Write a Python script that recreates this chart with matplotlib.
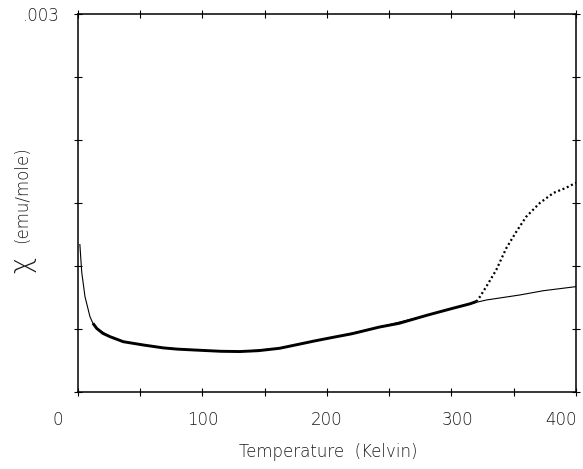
import numpy as np
import matplotlib.pyplot as plt
from matplotlib.ticker import MultipleLocator, FixedLocator
from matplotlib.transforms import ScaledTranslation

# measured susceptibility, dense part (below the transition)
temp_low = [12, 15, 20, 25.7, 36.4, 52.5, 68.5, 80, 100, 115, 130, 145, 162,
            178, 190, 205, 220, 242, 258, 280, 301, 315, 320]
chi_low = [0.000545, 0.000505, 0.000465, 0.000439, 0.000399, 0.000373, 0.000350,
           0.000340, 0.000330, 0.000323, 0.000321, 0.000328, 0.000347, 0.000380,
           0.000405, 0.000434, 0.000462, 0.000515, 0.000545, 0.000608, 0.000664,
           0.000700, 0.000718]

# measured susceptibility above the transition
temp_high = [320, 323, 328, 336, 344, 352, 360, 371, 382, 392, 400]
chi_high = [0.000718, 0.000757, 0.000836, 0.000968, 0.00114, 0.00127, 0.00139,
            0.00150, 0.00158, 0.00162, 0.00166]

# fitted curve
fit_temp = [1.5, 3, 5.6, 9.6, 12, 15, 25.7, 36.4, 52.5, 68.5, 100, 130, 162, 205,
            242, 280, 301, 315, 328, 355, 374, 400]
fit_chi = [0.00117, 0.00095, 0.000757, 0.000598, 0.000545, 0.000505, 0.000439,
           0.000399, 0.000373, 0.000350, 0.000330, 0.000321, 0.000347, 0.000434,
           0.000515, 0.000608, 0.000664, 0.000700, 0.000730, 0.000770, 0.000804,
           0.000836]

plt.rcParams['font.family'] = ['DejaVu Sans']
plt.rcParams['font.weight'] = 'light'

fig = plt.figure(figsize=(5.83, 4.69), dpi=100)
ax = fig.add_axes([0.1338, 0.1642, 0.854, 0.806])

ax.plot(fit_temp, fit_chi, color='black', lw=0.8)
ax.plot(temp_low, chi_low, color='black', lw=2.1, solid_capstyle='butt')
ax.plot(temp_high, chi_high, color='black', lw=1.6, linestyle=(0, (0.9, 1.2)))

ax.set_xlim(0, 400)
ax.set_ylim(0, 0.003)

ax.xaxis.set_major_locator(FixedLocator([0, 100, 200, 300, 400]))
ax.xaxis.set_minor_locator(MultipleLocator(50))
ax.yaxis.set_major_locator(FixedLocator([0.003]))
ax.yaxis.set_minor_locator(MultipleLocator(0.0005))
ax.set_yticklabels(['.003'])

txt = '#1a1a1a'
ax.tick_params(which='both', direction='inout', length=6, width=0.8,
               top=True, right=True, colors='black')
ax.tick_params(axis='x', pad=11, labelsize=12, labelcolor=txt)
ax.tick_params(axis='y', pad=10, labelsize=12, labelcolor=txt)

# nudge the end labels like on the original plot
labels = ax.get_xticklabels()
labels[0].set_transform(labels[0].get_transform() +
                        ScaledTranslation(-0.2, 0, fig.dpi_scale_trans))
labels[3].set_transform(labels[3].get_transform() +
                        ScaledTranslation(0.06, 0, fig.dpi_scale_trans))
labels[4].set_transform(labels[4].get_transform() +
                        ScaledTranslation(-0.15, 0, fig.dpi_scale_trans))

for s in ax.spines.values():
    s.set_linewidth(1.1)

fig.text(0.563, 0.036, 'Temperature  (Kelvin)', ha='center', va='center',
         fontsize=12, color=txt)
fig.text(0.038, 0.435, 'χ', ha='center', va='center', rotation=90,
         fontsize=20, color=txt)
fig.text(0.038, 0.585, '(emu/mole)', ha='center', va='center', rotation=90,
         fontsize=12, color=txt)

fig.savefig('out.png', dpi=100)
